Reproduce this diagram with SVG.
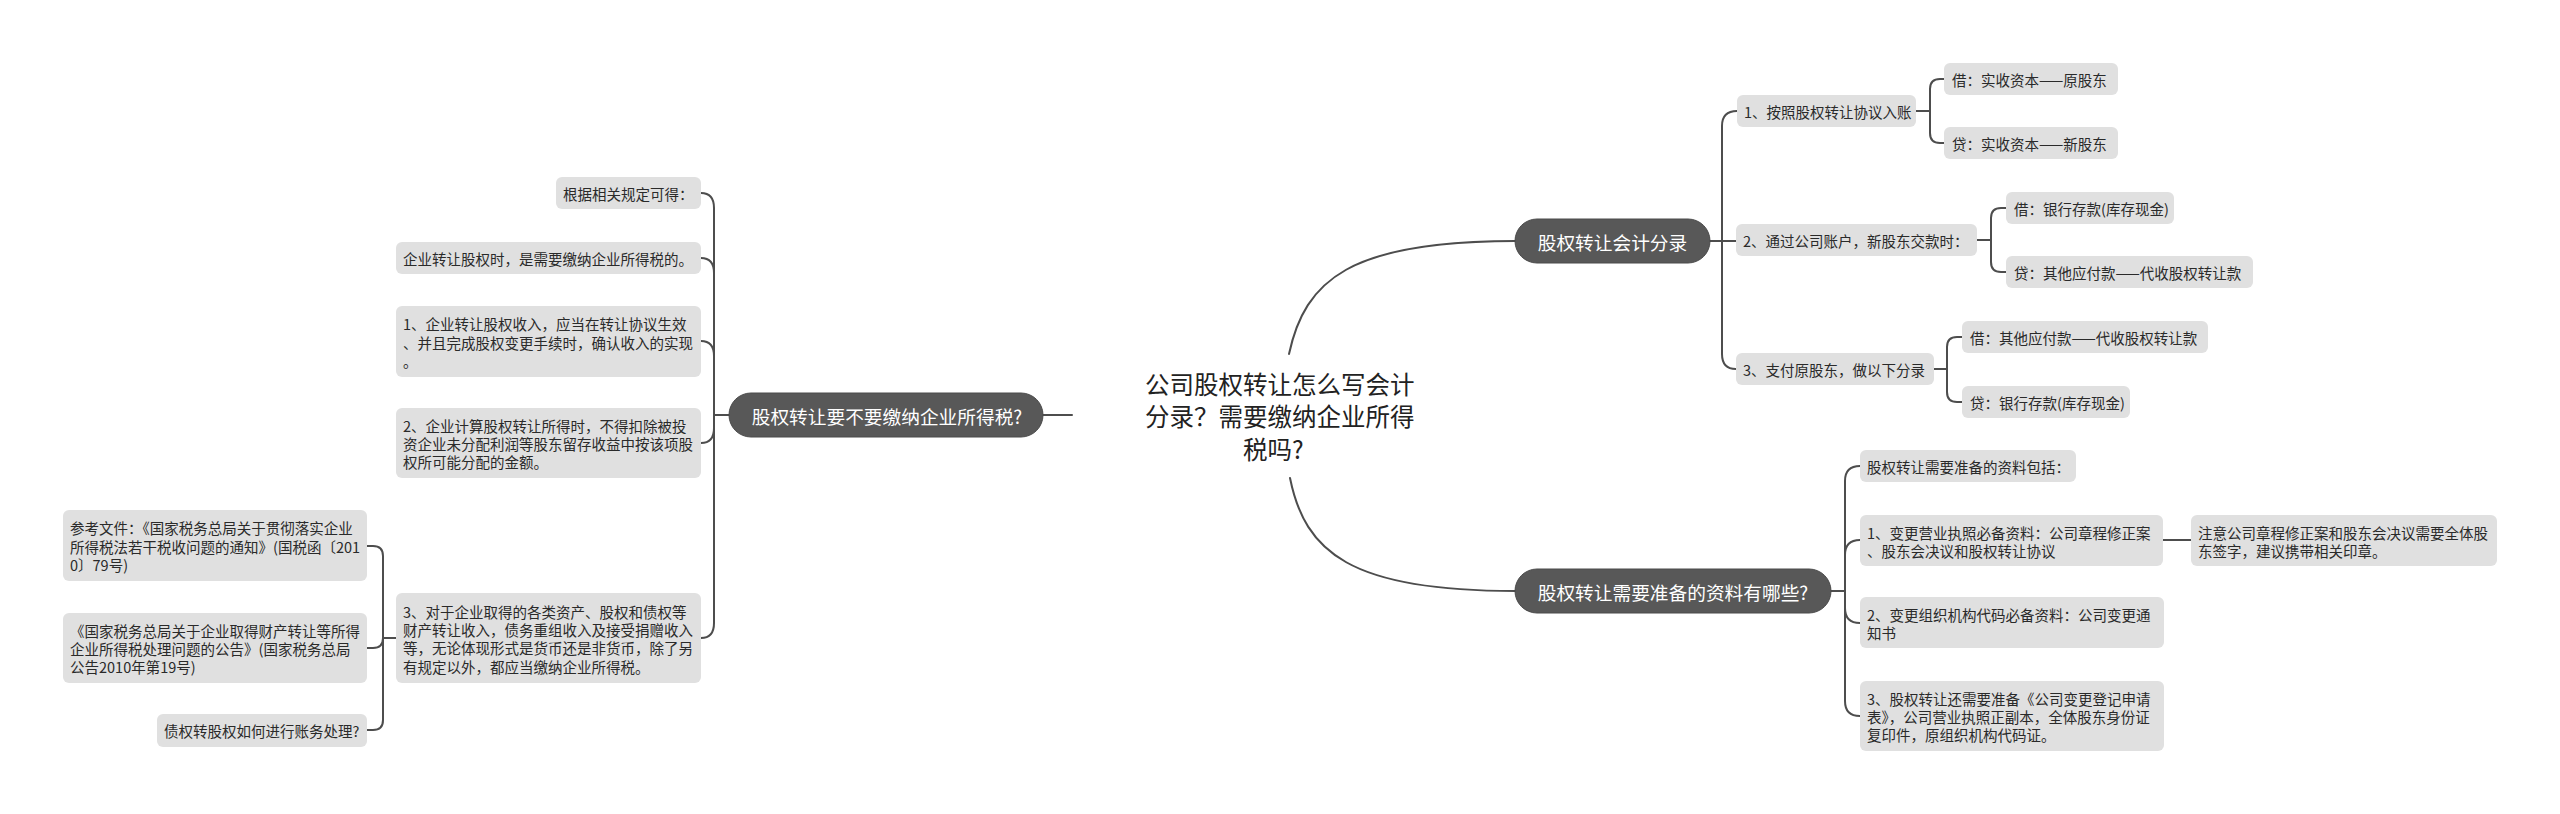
<svg xmlns="http://www.w3.org/2000/svg" width="2560" height="814" viewBox="0 0 2560 814">
<style>
.c{fill:none;stroke:#4d4d4d;stroke-width:2;stroke-linecap:round}
.b{fill:#e0e0e0}
.p{fill:#585858;stroke:#4a4a4a;stroke-width:1}
text{font-family:"Noto Sans CJK SC","Noto Sans",sans-serif;dominant-baseline:central}
.t{font-size:14.5px;fill:#2a2a2a}
.pt{font-size:18.7px;fill:#ffffff;text-anchor:middle}
.ct{font-size:24.5px;fill:#222222}
</style>
<rect width="2560" height="814" fill="#ffffff"/>
<g id="connectors">
<path class="c" d="M1289,354 C1305,280 1350,241 1515,241"/>
<path class="c" d="M1290,478 C1305,552 1350,591 1515,591"/>
<path class="c" d="M1043,415 H1072"/>
<path class="c" d="M1710,241 H1736"/>
<path class="c" d="M1722,241 V126 Q1722,111 1737,111"/>
<path class="c" d="M1722,241 V354 Q1722,369 1736,369"/>
<path class="c" d="M1916,111 H1930 M1930,111 V89 Q1930,79 1940,79 H1944 M1930,111 V133 Q1930,143 1940,143 H1944"/>
<path class="c" d="M1977,240 H1991 M1991,240 V218 Q1991,208 2001,208 H2006 M1991,240 V262 Q1991,272 2001,272 H2006"/>
<path class="c" d="M1934,369 H1947 M1947,369 V347 Q1947,337 1957,337 H1962 M1947,369 V392 Q1947,402 1957,402 H1962"/>
<path class="c" d="M1831,591 H1845"/>
<path class="c" d="M1845,591 V481 Q1845,466 1860,466"/>
<path class="c" d="M1845,591 V555 Q1845,540 1860,540"/>
<path class="c" d="M1845,591 V608 Q1845,623 1860,623"/>
<path class="c" d="M1845,591 V701 Q1845,716 1860,716"/>
<path class="c" d="M2163,540 H2191"/>
<path class="c" d="M714,415 H729"/>
<path class="c" d="M714,415 V208 Q714,193 701,193"/>
<path class="c" d="M714,415 V273 Q714,258 701,258"/>
<path class="c" d="M714,415 V356 Q714,341 701,341"/>
<path class="c" d="M714,415 V428 Q714,443 701,443"/>
<path class="c" d="M714,415 V623 Q714,638 701,638"/>
<path class="c" d="M396,638 H383 M383,638 V556 Q383,546 373,546 H367 M383,638 Q383,648 373,648 H367 M383,638 V720 Q383,730 373,730 H367"/>
</g>
<g id="center">
<text class="ct" x="1145" y="383">公司股权转让怎么写会计</text>
<text class="ct" x="1145" y="415">分录？需要缴纳企业所得</text>
<text class="ct" x="1243" y="448">税吗?</text>
</g>
<g id="branch-accounting">
<rect class="p" x="1515" y="219" width="195" height="44" rx="22"/>
<text class="pt" x="1612.5" y="241">股权转让会计分录</text>
</g>
<g id="r1a"><rect class="b" x="1737" y="95" width="179" height="32" rx="6"/><text class="t" x="1744" y="111">1、按照股权转让协议入账</text></g>
<g id="r1a1"><rect class="b" x="1944" y="63" width="174" height="32" rx="6"/><text class="t" x="1952" y="79">借：实收资本——原股东</text></g>
<g id="r1a2"><rect class="b" x="1944" y="127" width="174" height="32" rx="6"/><text class="t" x="1952" y="143">贷：实收资本——新股东</text></g>
<g id="r1b"><rect class="b" x="1736" y="224" width="241" height="32" rx="6"/><text class="t" x="1743" y="240">2、通过公司账户，新股东交款时：</text></g>
<g id="r1b1"><rect class="b" x="2006" y="192" width="168" height="32" rx="6"/><text class="t" x="2014" y="208">借：银行存款(库存现金)</text></g>
<g id="r1b2"><rect class="b" x="2006" y="256" width="247" height="32" rx="6"/><text class="t" x="2014" y="272">贷：其他应付款——代收股权转让款</text></g>
<g id="r1c"><rect class="b" x="1736" y="353" width="198" height="32" rx="6"/><text class="t" x="1743" y="369">3、支付原股东，做以下分录</text></g>
<g id="r1c1"><rect class="b" x="1962" y="321" width="246" height="32" rx="6"/><text class="t" x="1970" y="337">借：其他应付款——代收股权转让款</text></g>
<g id="r1c2"><rect class="b" x="1962" y="386" width="168" height="32" rx="6"/><text class="t" x="1970" y="402">贷：银行存款(库存现金)</text></g>
<g id="branch-materials">
<rect class="p" x="1515" y="569" width="316" height="44" rx="22"/>
<text class="pt" x="1673" y="591">股权转让需要准备的资料有哪些?</text>
</g>
<g id="r2a"><rect class="b" x="1860" y="450" width="216" height="32" rx="6"/><text class="t" x="1867" y="466">股权转让需要准备的资料包括：</text></g>
<g id="r2b"><rect class="b" x="1860" y="515" width="303" height="51" rx="6"/><text class="t"><tspan x="1867" y="531.5">1、变更营业执照必备资料：公司章程修正案</tspan><tspan x="1867" y="549.5">、股东会决议和股权转让协议</tspan></text></g>
<g id="r2b1"><rect class="b" x="2191" y="515" width="306" height="51" rx="6"/><text class="t"><tspan x="2198" y="531.5">注意公司章程修正案和股东会决议需要全体股</tspan><tspan x="2198" y="549.5">东签字，建议携带相关印章。</tspan></text></g>
<g id="r2c"><rect class="b" x="1860" y="597" width="304" height="51" rx="6"/><text class="t"><tspan x="1867" y="613.5">2、变更组织机构代码必备资料：公司变更通</tspan><tspan x="1867" y="631.5">知书</tspan></text></g>
<g id="r2d"><rect class="b" x="1860" y="681" width="304" height="70" rx="6"/><text class="t"><tspan x="1867" y="698">3、股权转让还需要准备《公司变更登记申请</tspan><tspan x="1867" y="716">表》，公司营业执照正副本，全体股东身份证</tspan><tspan x="1867" y="734">复印件，原组织机构代码证。</tspan></text></g>
<g id="branch-tax">
<rect class="p" x="729" y="393" width="314" height="44" rx="22"/>
<text class="pt" x="887" y="415">股权转让要不要缴纳企业所得税?</text>
</g>
<g id="l1"><rect class="b" x="556" y="177" width="145" height="32" rx="6"/><text class="t" x="563" y="193">根据相关规定可得：</text></g>
<g id="l2"><rect class="b" x="396" y="242" width="305" height="32" rx="6"/><text class="t" x="403" y="258">企业转让股权时，是需要缴纳企业所得税的。</text></g>
<g id="l3"><rect class="b" x="396" y="306" width="305" height="71" rx="6"/><text class="t"><tspan x="403" y="323">1、企业转让股权收入，应当在转让协议生效</tspan><tspan x="403" y="341.5">、并且完成股权变更手续时，确认收入的实现</tspan><tspan x="403" y="360">。</tspan></text></g>
<g id="l4"><rect class="b" x="396" y="408" width="305" height="70" rx="6"/><text class="t"><tspan x="403" y="425">2、企业计算股权转让所得时，不得扣除被投</tspan><tspan x="403" y="443">资企业未分配利润等股东留存收益中按该项股</tspan><tspan x="403" y="461">权所可能分配的金额。</tspan></text></g>
<g id="l5"><rect class="b" x="396" y="593" width="305" height="90" rx="6"/><text class="t"><tspan x="403" y="610.5">3、对于企业取得的各类资产、股权和债权等</tspan><tspan x="403" y="629">财产转让收入，债务重组收入及接受捐赠收入</tspan><tspan x="403" y="647">等，无论体现形式是货币还是非货币，除了另</tspan><tspan x="403" y="665.5">有规定以外，都应当缴纳企业所得税。</tspan></text></g>
<g id="l5a"><rect class="b" x="63" y="510" width="304" height="71" rx="6"/><text class="t"><tspan x="70" y="527">参考文件：《国家税务总局关于贯彻落实企业</tspan><tspan x="70" y="545.5">所得税法若干税收问题的通知》(国税函〔201</tspan><tspan x="70" y="564">0〕79号)</tspan></text></g>
<g id="l5b"><rect class="b" x="63" y="613" width="304" height="70" rx="6"/><text class="t"><tspan x="70" y="630">《国家税务总局关于企业取得财产转让等所得</tspan><tspan x="70" y="648">企业所得税处理问题的公告》(国家税务总局</tspan><tspan x="70" y="666">公告2010年第19号)</tspan></text></g>
<g id="l5c"><rect class="b" x="157" y="714" width="210" height="33" rx="6"/><text class="t" x="164" y="730.5">债权转股权如何进行账务处理?</text></g>
</svg>
